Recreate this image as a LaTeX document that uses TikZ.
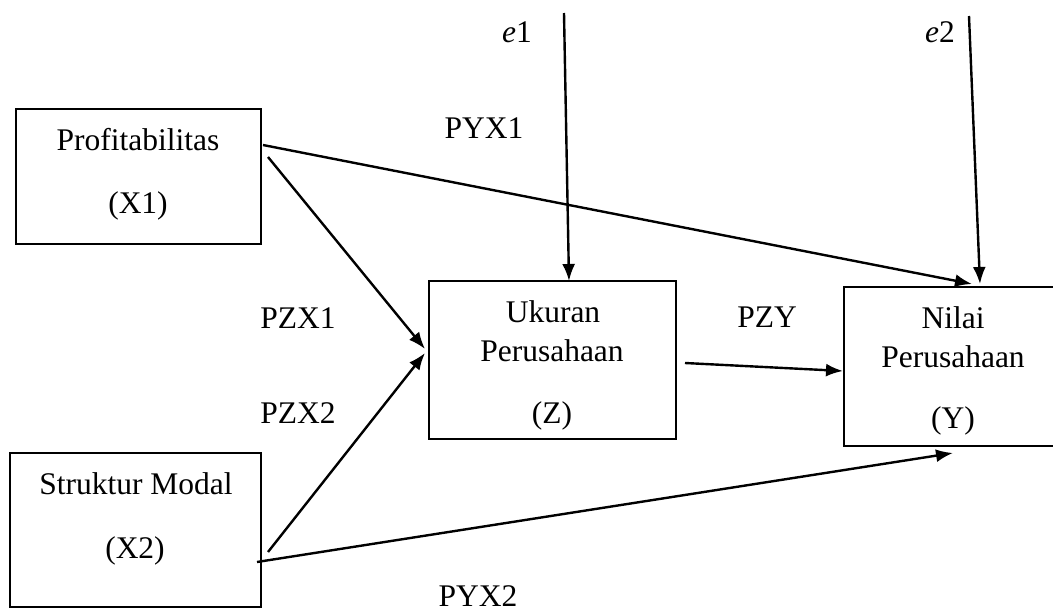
\documentclass[tikz,border=0pt]{standalone}
\usepackage{fontspec}
\setmainfont{Liberation Serif}
\usetikzlibrary{arrows.meta}
\begin{document}
\begin{tikzpicture}[x=1pt,y=-1pt,
  box/.style={draw,line width=2.5pt,inner sep=0pt},
  lbl/.style={anchor=base,inner sep=0pt,font=\fontsize{31.5}{38}\selectfont},
  conn/.style={line width=2.4pt,-{Latex[length=17pt,width=13pt]}}]
\useasboundingbox (0,0) rectangle (1053,613);
% boxes
\node[box,minimum width=245pt,minimum height=135pt] (X1) at (138.5,176.5) {};
\node[box,minimum width=251pt,minimum height=154pt] (X2) at (135.5,530) {};
\node[box,minimum width=247pt,minimum height=158pt] (Z) at (552.5,360) {};
\node[box,minimum width=218pt,minimum height=159pt] (Y) at (953,366.5) {};
% box texts
\node[lbl] (x1a) at (138,150) {Profitabilitas};
\node[lbl] (x1b) at (138,213) {(X1)};
\node[lbl] (x2a) at (136,494) {Struktur Modal};
\node[lbl] (x2b) at (135,558) {(X2)};
\node[lbl] (za) at (553,322) {Ukuran};
\node[lbl] (zb) at (552,361) {Perusahaan};
\node[lbl] (zc) at (552,423) {(Z)};
\node[lbl] (ya) at (953,328) {Nilai};
\node[lbl] (yb) at (953,367) {Perusahaan};
\node[lbl] (yc) at (953,428) {(Y)};
% path labels
\node[lbl,anchor=base west] (e1) at (502,42) {\textit{e}1};
\node[lbl,anchor=base west] (e2) at (925,42) {\textit{e}2};
\node[lbl] (pyx1) at (484,138) {PYX1};
\node[lbl] (pzx1) at (298,328) {PZX1};
\node[lbl] (pzx2) at (298,423) {PZX2};
\node[lbl] (pzy) at (767,327) {PZY};
\node[lbl] (pyx2) at (478,606) {PYX2};
% connector end points
\coordinate (e1s) at (564,13);
\coordinate (e1t) at (569,281);
\coordinate (e2s) at (969,16);
\coordinate (e2t) at (980,284);
\coordinate (x1s) at (263,145);
\coordinate (yt1) at (972,284);
\coordinate (x1s2) at (268,157);
\coordinate (zt1) at (425,349);
\coordinate (x2s) at (268,552);
\coordinate (zt2) at (425,353);
\coordinate (x2s2) at (257,562);
\coordinate (yt2) at (953,453);
\coordinate (zs) at (685,363);
\coordinate (yt3) at (843,371);
% connectors
\draw[conn] (e1s) -- (e1t);
\draw[conn] (e2s) -- (e2t);
\draw[conn] (x1s) -- (yt1);
\draw[conn] (x1s2) -- (zt1);
\draw[conn] (x2s) -- (zt2);
\draw[conn] (x2s2) -- (yt2);
\draw[conn] (zs) -- (yt3);
\end{tikzpicture}
\end{document}
